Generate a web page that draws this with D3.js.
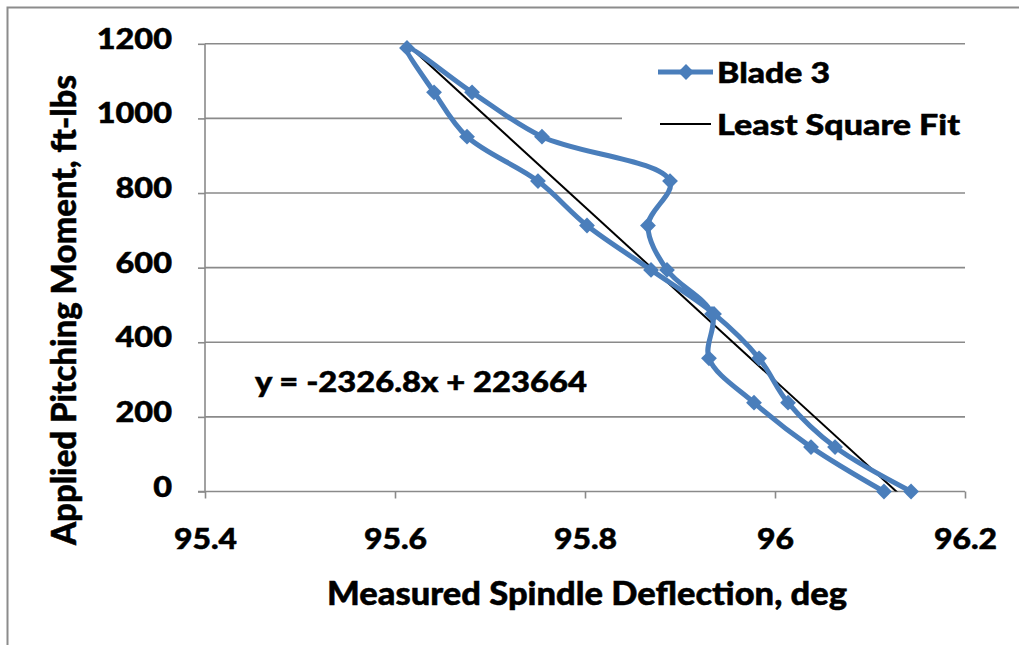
<!DOCTYPE html>
<html>
<head>
<meta charset="utf-8">
<script src="https://cdn.jsdelivr.net/npm/d3@7"></script>
<style>
  html, body { margin: 0; padding: 0; background: #fff; }
  svg { display: block; }
  text { font-family: Lato, "Open Sans", sans-serif; font-weight: 900; fill: #000; stroke: #000; stroke-width: 0.5px; }
</style>
</head>
<body>
<script>
// ---- data ----
const xTicks = [95.4, 95.6, 95.8, 96, 96.2];
const xTickLabels = ["95.4", "95.6", "95.8", "96", "96.2"];
const yTicks = [0, 200, 400, 600, 800, 1000, 1200];
const yTickLabels = ["0", "200", "400", "600", "800", "1000", "1200"];
const moment = [0, 119, 238, 357, 476, 594, 713, 832, 951, 1070, 1189,
                1070, 951, 832, 713, 594, 476, 357, 238, 119, 0];
const deflection = [96.1147, 96.0379, 95.9779, 95.9305, 95.9337, 95.8863, 95.8663, 95.8895, 95.7547, 95.6811, 95.6126,
                    95.6411, 95.6758, 95.7505, 95.8021, 95.8695, 95.9358, 95.9832, 96.0137, 96.0632, 96.1432];
const fitX = [95.6126, 96.1432];
const fitY = [1198.6, -36.0];
const seriesNames = ["Blade 3", "Least Square Fit"];
const equationText = "y = -2326.8x + 223664";
const xTitle = "Measured Spindle Deflection, deg";
const yTitle = "Applied Pitching Moment, ft-lbs";

(function () {
// ---- layout ----
const W = 1019, H = 645;
const pL = 205, pR = 965, pT = 43.8, pB = 491.5;
const blue = "#4a7ebb", grid = "#8a8a8a";

const svg = d3.select("body").append("svg").attr("width", W).attr("height", H);

// outer chart border
svg.append("rect").attr("x", 7.5).attr("y", 7.5).attr("width", W + 20).attr("height", H + 20)
  .attr("fill", "none").attr("stroke", "#8c8c8c").attr("stroke-width", 2);

const x = d3.scaleLinear().domain([95.4, 96.2]).range([pL, pR]);
const y = d3.scaleLinear().domain([0, 1200]).range([pB, pT]);

// gridlines
svg.append("g").selectAll("line").data(yTicks.filter(d => d > 0)).join("line")
  .attr("x1", pL).attr("x2", pR)
  .attr("y1", d => y(d)).attr("y2", d => y(d))
  .attr("stroke", grid).attr("stroke-width", 1.6);

// y axis
const yAxis = svg.append("g").attr("transform", `translate(${pL},0)`)
  .call(d3.axisLeft(y).tickValues(yTicks).tickSize(7).tickFormat((d, i) => yTickLabels[i]));
yAxis.select(".domain").attr("stroke", grid).attr("stroke-width", 1.6).attr("d", `M0,${pT}V${pB}`);
yAxis.selectAll(".tick line").attr("stroke", grid).attr("stroke-width", 1.6);
yAxis.selectAll(".tick text").attr("x", 0).attr("dy", 4.5)
  .style("font-size", "29px").attr("fill", "#000")
  .attr("transform", "translate(-33,0) scale(1.12,1)");

// x axis
const xAxis = svg.append("g").attr("transform", `translate(0,${pB})`)
  .call(d3.axisBottom(x).tickValues(xTicks).tickSize(7).tickFormat((d, i) => xTickLabels[i]));
xAxis.select(".domain").attr("stroke", grid).attr("stroke-width", 1.6).attr("d", `M${pL - 7},0H${pR}`);
xAxis.selectAll(".tick text").attr("y", 0).attr("dy", 0)
  .style("font-size", "29px").attr("fill", "#000")
  .attr("transform", "translate(0,57) scale(1.1,1)");
xAxis.selectAll(".tick line").attr("stroke", grid).attr("stroke-width", 1.6);

// clip for plot area
svg.append("clipPath").attr("id", "plotclip").append("rect")
  .attr("x", pL).attr("y", pT - 10).attr("width", pR - pL).attr("height", pB - pT + 10);

// least squares line
svg.append("line").attr("clip-path", "url(#plotclip)")
  .attr("x1", x(fitX[0])).attr("y1", y(fitY[0]))
  .attr("x2", x(fitX[1])).attr("y2", y(fitY[1]))
  .attr("stroke", "#000").attr("stroke-width", 2);

// blade series
const pts = deflection.map((d, i) => [d, moment[i]]);
const line = d3.line().x(d => x(d[0])).y(d => y(d[1])).curve(d3.curveCatmullRom.alpha(0.5));
svg.append("path").datum(pts).attr("d", line)
  .attr("fill", "none").attr("stroke", blue).attr("stroke-width", 5)
  .attr("stroke-linejoin", "round").attr("stroke-linecap", "round");

const diamond = d3.symbol().type(d3.symbolSquare).size(125);
svg.append("g").selectAll("path").data(pts).join("path")
  .attr("d", diamond)
  .attr("transform", d => `translate(${x(d[0])},${y(d[1])}) rotate(45)`)
  .attr("fill", blue);

// equation
svg.append("text").attr("x", 255).attr("y", 391.5)
  .style("font-size", "28px").attr("textLength", 332).attr("lengthAdjust", "spacingAndGlyphs")
  .text(equationText);

// legend
const lg = svg.append("g");
lg.append("rect").attr("x", 622).attr("y", 52).attr("width", 345).attr("height", 100)
  .attr("fill", "#fff").attr("stroke", "none");
lg.append("line").attr("x1", 658).attr("x2", 713).attr("y1", 72).attr("y2", 72)
  .attr("stroke", blue).attr("stroke-width", 5);
lg.append("path").attr("d", diamond).attr("transform", "translate(686,72) rotate(45)").attr("fill", blue);
lg.append("text").attr("x", 717).attr("y", 83).style("font-size", "29px")
  .attr("textLength", 113).attr("lengthAdjust", "spacingAndGlyphs").text(seriesNames[0]);
lg.append("line").attr("x1", 660).attr("x2", 711).attr("y1", 124).attr("y2", 124)
  .attr("stroke", "#000").attr("stroke-width", 2);
lg.append("text").attr("x", 717).attr("y", 134.5).style("font-size", "29px")
  .attr("textLength", 243).attr("lengthAdjust", "spacingAndGlyphs").text(seriesNames[1]);

// axis titles
svg.append("text").attr("x", 587).attr("y", 605).attr("text-anchor", "middle")
  .style("font-size", "33px").attr("textLength", 520).attr("lengthAdjust", "spacingAndGlyphs")
  .text(xTitle);
svg.append("text").attr("transform", "translate(76,310) rotate(-90)").attr("text-anchor", "middle")
  .style("font-size", "34px").attr("textLength", 470).attr("lengthAdjust", "spacingAndGlyphs")
  .text(yTitle);
})();
</script>
</body>
</html>
